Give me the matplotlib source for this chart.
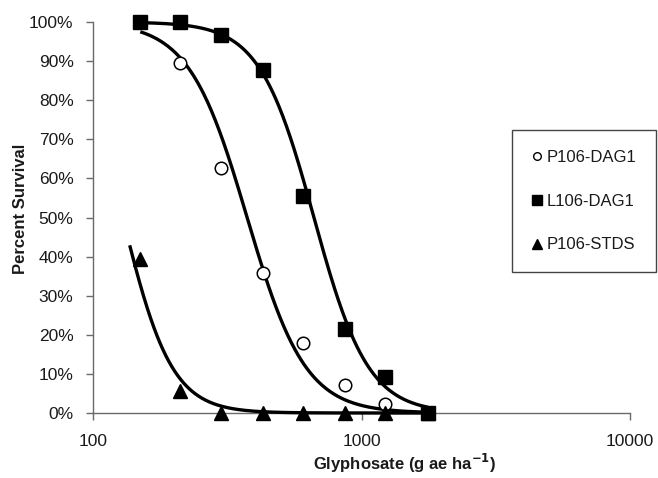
import numpy as np
import matplotlib
matplotlib.use("Agg")
import matplotlib.pyplot as plt
from matplotlib.lines import Line2D
from matplotlib.ticker import FuncFormatter, FixedLocator, NullLocator

plt.rcParams['font.family'] = ['Liberation Sans', 'DejaVu Sans']

# ---- data ----
doses = [150, 210, 300, 430, 605, 865, 1220, 1770]
p106_dag1 = [100, 89.5, 62.6, 35.8, 17.9, 7.2, 2.3, 0]
l106_dag1 = [100, 100, 96.7, 87.7, 55.5, 21.5, 9.2, 0]
p106_stds = [39.5, 5.5, 0, 0, 0, 0, 0, 0]
series_names = ['P106-DAG1', 'L106-DAG1', 'P106-STDS']

# fitted log-logistic trend curves (ED50, slope, start dose, end dose)
curve_ed50 = [375, 665, 129]
curve_slope = [4.0, 4.3, 4.76]
curve_start = [150, 150, 137]
curve_end = [1770, 1770, 1770]

x_ticks = [100, 1000, 10000]
y_ticks = [0, 10, 20, 30, 40, 50, 60, 70, 80, 90, 100]

W, H = 658, 478
fig = plt.figure(figsize=(W / 100, H / 100), dpi=100)
ax = fig.add_axes([93 / W, 1 - 413 / H, 537 / W, 391 / H])

ax.set_xscale('log')
ax.set_xlim(100, 10000)
ax.set_ylim(0, 100)

# trend curves
for ed50, b, s, e in zip(curve_ed50, curve_slope, curve_start, curve_end):
    xs = np.geomspace(s, e, 300)
    ys = 100.0 / (1.0 + (xs / ed50) ** b)
    ax.plot(xs, ys, color='black', lw=2.4, zorder=3, clip_on=False, solid_capstyle='butt')

# markers
ax.plot(doses, p106_dag1, linestyle='none', marker='o', ms=9, mfc='white', mec='black',
        mew=1.1, zorder=4, clip_on=False)
ax.plot(doses, p106_stds, linestyle='none', marker='^', ms=10, mfc='black', mec='black',
        zorder=5, clip_on=False)
ax.plot(doses, l106_dag1, linestyle='none', marker='s', ms=10, mfc='black', mec='black',
        zorder=6, clip_on=False)

# axes styling
for side in ['top', 'right']:
    ax.spines[side].set_visible(False)
for side in ['left', 'bottom']:
    ax.spines[side].set_color('#6a6a6a')
    ax.spines[side].set_linewidth(1.0)

ax.xaxis.set_major_locator(FixedLocator(x_ticks))
ax.xaxis.set_minor_locator(NullLocator())
ax.xaxis.set_major_formatter(FuncFormatter(lambda v, p: f"{int(v)}"))
ax.yaxis.set_major_locator(FixedLocator(y_ticks))
ax.yaxis.set_major_formatter(FuncFormatter(lambda v, p: f"{int(round(v))}%"))

ax.tick_params(axis='x', direction='out', length=5, width=1, color='#6a6a6a',
               pad=10, labelsize=12.5, labelcolor='#1a1a1a')
ax.tick_params(axis='y', direction='out', length=5, width=1, color='#6a6a6a',
               pad=9, labelsize=12.5, labelcolor='#1a1a1a')

fig.text(405 / W, 1 - 463 / H, 'Glyphosate (g ae ha$^{\\mathbf{-1}}$)', ha='center', va='center',
         fontsize=12, fontweight='bold', color='#1a1a1a')
fig.text(21 / W, 1 - 209 / H, 'Percent Survival', ha='center', va='center', rotation=90,
         fontsize=12, fontweight='bold', color='#1a1a1a')

handles = [
    Line2D([], [], linestyle='none', marker='o', ms=5.5, mfc='white', mec='black', mew=1.0),
    Line2D([], [], linestyle='none', marker='s', ms=6.5, mfc='black', mec='black'),
    Line2D([], [], linestyle='none', marker='^', ms=7, mfc='black', mec='black'),
]
leg = ax.legend(handles, series_names, loc='upper left',
                bbox_to_anchor=(512 / W, 1 - 130 / H), bbox_transform=fig.transFigure,
                frameon=True, fancybox=False, edgecolor='#444444', framealpha=1,
                fontsize=12, borderpad=1.2, labelspacing=1.72, handlelength=0.6,
                handletextpad=0.25, borderaxespad=0)
leg.get_frame().set_linewidth(1.0)
for t in leg.get_texts():
    t.set_color('#1a1a1a')

fig.savefig('out.png', dpi=100)
